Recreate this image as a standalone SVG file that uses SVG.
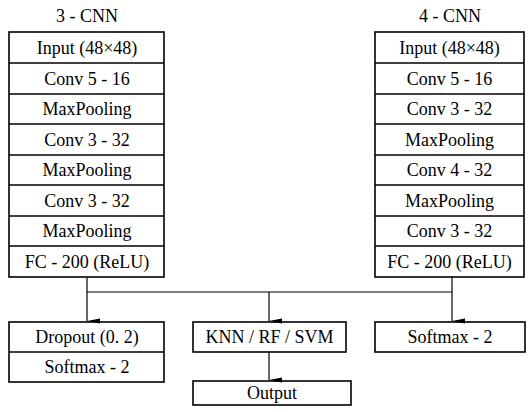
<svg xmlns="http://www.w3.org/2000/svg" width="528" height="412" viewBox="0 0 528 412">
  <style>
    .box { fill: #fff; stroke: #000; stroke-width: 1.6; }
    .sep { stroke: #000; stroke-width: 1.4; }
    text { font-family: 'Times New Roman', Times, 'Liberation Serif', 'Nimbus Roman', 'Noto Serif', 'DejaVu Serif', serif; font-size: 18px; fill: #000; text-anchor: middle; }
    .wire { fill: none; stroke: #000; stroke-width: 1.2; }
  </style>
  <defs>
    <marker id="arrow" markerWidth="6" markerHeight="14" refX="3" refY="13" orient="auto" markerUnits="userSpaceOnUse">
      <path d="M0.5,0 L3,13 L5.5,0 Z" fill="#000"/>
    </marker>
  </defs>
  <rect width="528" height="412" fill="#fff"/>

  <!-- 3-layer CNN stack -->
  <g id="cnn3">
    <text x="87" y="22">3 - CNN</text>
    <rect class="box" x="9" y="32" width="155" height="245"/>
    <line class="sep" x1="9" y1="63" x2="164" y2="63"/>
    <line class="sep" x1="9" y1="94" x2="164" y2="94"/>
    <line class="sep" x1="9" y1="124" x2="164" y2="124"/>
    <line class="sep" x1="9" y1="155" x2="164" y2="155"/>
    <line class="sep" x1="9" y1="185" x2="164" y2="185"/>
    <line class="sep" x1="9" y1="216" x2="164" y2="216"/>
    <line class="sep" x1="9" y1="246" x2="164" y2="246"/>
    <text x="87" y="54">Input (48×48)</text>
    <text x="87" y="85">Conv 5 - 16</text>
    <text x="87" y="115">MaxPooling</text>
    <text x="87" y="146">Conv 3 - 32</text>
    <text x="87" y="176">MaxPooling</text>
    <text x="87" y="207">Conv 3 - 32</text>
    <text x="87" y="237">MaxPooling</text>
    <text x="87" y="268">FC - 200 (ReLU)</text>
  </g>

  <!-- 4-layer CNN stack -->
  <g id="cnn4">
    <text x="450" y="22">4 - CNN</text>
    <rect class="box" x="375" y="32" width="149" height="245"/>
    <line class="sep" x1="375" y1="63" x2="524" y2="63"/>
    <line class="sep" x1="375" y1="94" x2="524" y2="94"/>
    <line class="sep" x1="375" y1="124" x2="524" y2="124"/>
    <line class="sep" x1="375" y1="155" x2="524" y2="155"/>
    <line class="sep" x1="375" y1="185" x2="524" y2="185"/>
    <line class="sep" x1="375" y1="216" x2="524" y2="216"/>
    <line class="sep" x1="375" y1="246" x2="524" y2="246"/>
    <text x="449.5" y="54">Input (48×48)</text>
    <text x="449.5" y="85">Conv 5 - 16</text>
    <text x="449.5" y="115">Conv 3 - 32</text>
    <text x="449.5" y="146">MaxPooling</text>
    <text x="449.5" y="176">Conv 4 - 32</text>
    <text x="449.5" y="207">MaxPooling</text>
    <text x="449.5" y="237">Conv 3 - 32</text>
    <text x="449.5" y="268">FC - 200 (ReLU)</text>
  </g>

  <!-- Dropout + softmax head -->
  <g id="head-dropout">
    <rect class="box" x="9" y="322" width="155" height="60"/>
    <line class="sep" x1="9" y1="352" x2="164" y2="352"/>
    <text x="87" y="343">Dropout (0. 2)</text>
    <text x="87" y="373">Softmax - 2</text>
  </g>

  <!-- Classical classifiers -->
  <g id="classifiers">
    <rect class="box" x="193" y="322" width="153" height="30"/>
    <text x="269.5" y="343">KNN / RF / SVM</text>
  </g>

  <g id="output">
    <rect class="box" x="193" y="381" width="158" height="24"/>
    <text x="272" y="399">Output</text>
  </g>

  <!-- Softmax head -->
  <g id="head-softmax">
    <rect class="box" x="375" y="322" width="150" height="30"/>
    <text x="450" y="343">Softmax - 2</text>
  </g>

  <!-- Connectors -->
  <g id="connectors">
    <line class="wire" x1="87" y1="277" x2="87" y2="292"/>
    <line class="wire" x1="452" y1="277" x2="452" y2="292"/>
    <line class="wire" x1="87" y1="292" x2="452" y2="292"/>
    <line class="wire" x1="87" y1="292" x2="87" y2="321" marker-end="url(#arrow)"/>
    <line class="wire" x1="269" y1="292" x2="269" y2="321" marker-end="url(#arrow)"/>
    <line class="wire" x1="452" y1="292" x2="452" y2="321" marker-end="url(#arrow)"/>
    <line class="wire" x1="269" y1="352" x2="269" y2="380" marker-end="url(#arrow)"/>
  </g>
</svg>
